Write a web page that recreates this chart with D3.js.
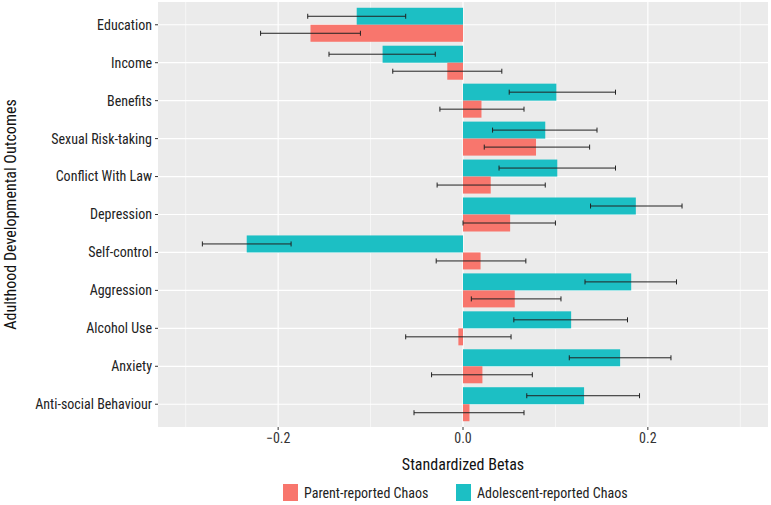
<!DOCTYPE html>
<html><head><meta charset="utf-8">
<script src="https://cdn.jsdelivr.net/npm/d3@7"></script>
<style>body{margin:0;background:#fff}text{font-family:"Liberation Sans Narrow","Roboto Condensed","Liberation Sans",sans-serif}</style>
</head><body><svg id="c" width="771" height="505"></svg>
<script>
const categories=["Education","Income","Benefits","Sexual Risk-taking","Conflict With Law","Depression","Self-control","Aggression","Alcohol Use","Anxiety","Anti-social Behaviour"];
const adolescent=[-0.115,-0.087,0.101,0.089,0.102,0.187,-0.234,0.182,0.117,0.170,0.131];
const adolescentLo=[-0.168,-0.145,0.050,0.032,0.039,0.138,-0.282,0.132,0.055,0.115,0.069];
const adolescentHi=[-0.062,-0.030,0.165,0.145,0.165,0.237,-0.186,0.231,0.178,0.225,0.191];
const parent=[-0.165,-0.017,0.020,0.079,0.030,0.051,0.019,0.056,-0.005,0.021,0.007];
const parentLo=[-0.219,-0.076,-0.025,0.023,-0.028,0.000,-0.029,0.009,-0.062,-0.034,-0.053];
const parentHi=[-0.111,0.042,0.066,0.137,0.089,0.100,0.068,0.106,0.052,0.075,0.066];
const majorTicks=[-0.2,0,0.2], minorTicks=[-0.3,-0.1,0.1,0.3];
const tickLabels=["\u22120.2","0.0","0.2"];
const CY="#1cbfc4", RD="#f8766d";
const svg=d3.select("#c");
const L=158,R=768,T=2,B=427;
const x=d3.scaleLinear().domain([-0.33,0.33]).range([L,R]);
const y=d3.scalePoint().domain(categories).range([T+0.6*((B-T)/11.2),B-0.6*((B-T)/11.2)]);
const step=y.step(), bh=17;
svg.append("rect").attr("x",L).attr("y",T).attr("width",R-L).attr("height",B-T).attr("fill","#ebebeb");
minorTicks.forEach(t=>svg.append("line").attr("x1",x(t)).attr("x2",x(t)).attr("y1",T).attr("y2",B).attr("stroke","#fff").attr("stroke-width",0.6));
majorTicks.forEach(t=>svg.append("line").attr("x1",x(t)).attr("x2",x(t)).attr("y1",T).attr("y2",B).attr("stroke","#fff").attr("stroke-width",1.2));
categories.forEach(c=>svg.append("line").attr("x1",L).attr("x2",R).attr("y1",y(c)).attr("y2",y(c)).attr("stroke","#fff").attr("stroke-width",1.2));
function bars(vals,lo,hi,col,off){
  const g=svg.append("g");
  g.selectAll("rect").data(categories).join("rect")
   .attr("x",(d,i)=>x(Math.min(0,vals[i]))).attr("width",(d,i)=>Math.abs(x(vals[i])-x(0)))
   .attr("y",d=>y(d)+off).attr("height",bh).attr("fill",col);
  categories.forEach((c,i)=>{
    const cy=y(c)+off+bh/2;
    g.append("line").attr("x1",x(lo[i])).attr("x2",x(hi[i])).attr("y1",cy).attr("y2",cy).attr("stroke","#222").attr("stroke-width",1);
    [lo[i],hi[i]].forEach(v=>g.append("line").attr("x1",x(v)).attr("x2",x(v)).attr("y1",cy-2.5).attr("y2",cy+2.5).attr("stroke","#222").attr("stroke-width",1));
  });
}
bars(adolescent,adolescentLo,adolescentHi,CY,-bh);
bars(parent,parentLo,parentHi,RD,0);
categories.forEach(c=>{
  svg.append("line").attr("x1",L-3).attr("x2",L).attr("y1",y(c)).attr("y2",y(c)).attr("stroke","#333");
  svg.append("text").attr("x",L-6).attr("y",y(c)).attr("dy","0.35em").attr("text-anchor","end").attr("font-size",14).attr("fill","#222").text(c);
});
majorTicks.forEach((t,i)=>{
  svg.append("line").attr("x1",x(t)).attr("x2",x(t)).attr("y1",B).attr("y2",B+3).attr("stroke","#333");
  svg.append("text").attr("x",x(t)).attr("y",B+16).attr("text-anchor","middle").attr("font-size",14).attr("fill","#333").text(tickLabels[i]);
});
svg.append("text").attr("x",(L+R)/2).attr("y",470).attr("text-anchor","middle").attr("font-size",16).attr("fill","#111").text("Standardized Betas");
svg.append("text").attr("transform",`translate(16,${(T+B)/2}) rotate(-90)`).attr("text-anchor","middle").attr("font-size",16).attr("fill","#111").text("Adulthood Developmental Outcomes");
const leg=[["Parent-reported Chaos",RD,283],["Adolescent-reported Chaos",CY,456]];
leg.forEach(([t,c,lx])=>{
  svg.append("rect").attr("x",lx).attr("y",484).attr("width",15).attr("height",17).attr("fill",c);
  svg.append("text").attr("x",lx+21).attr("y",493).attr("dy","0.35em").attr("font-size",14).attr("fill","#222").text(t);
});
</script></body></html>
